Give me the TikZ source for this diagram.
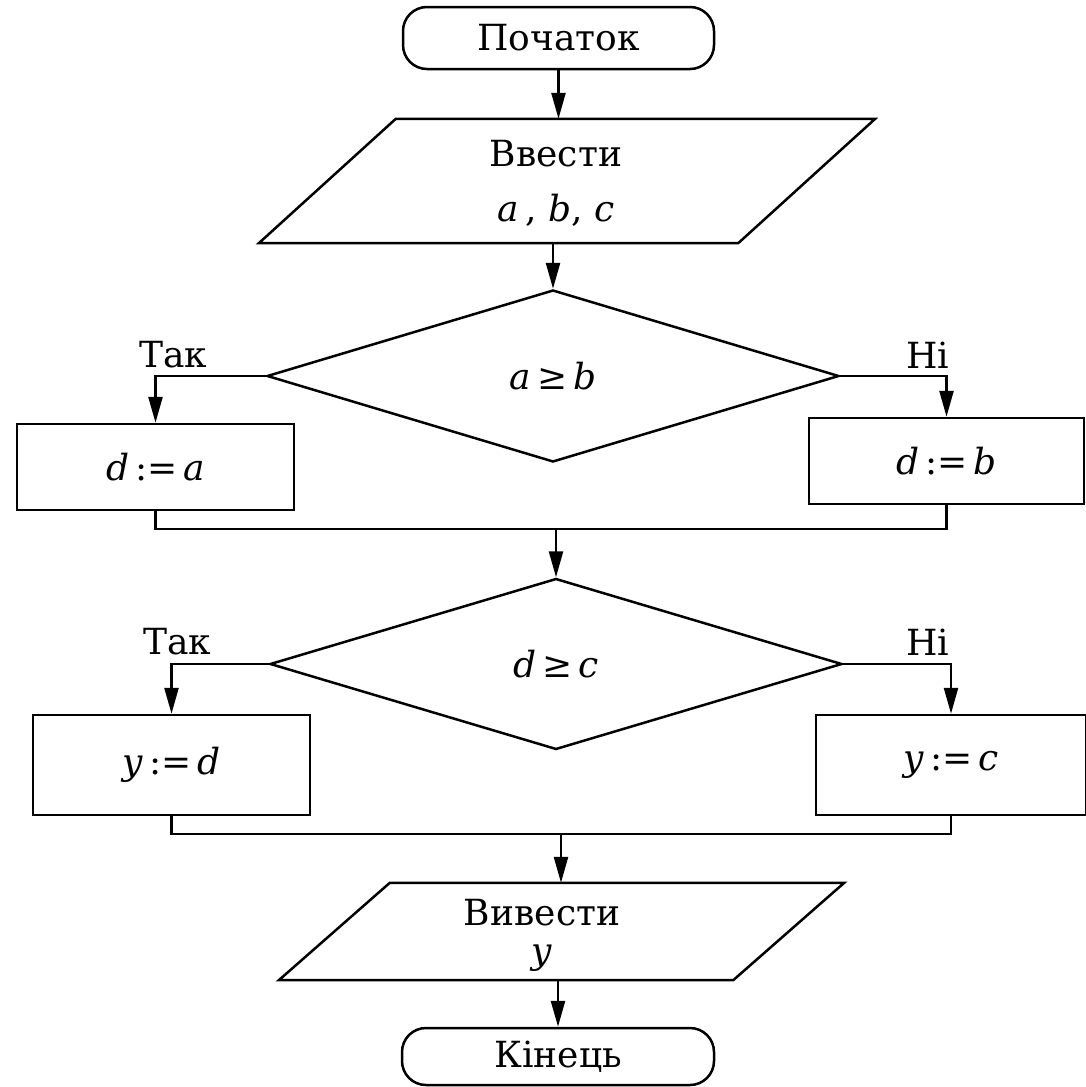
\documentclass[tikz,border=0pt]{standalone}
\usepackage{fontspec}
\setmainfont{DejaVu Serif}
\usetikzlibrary{shapes.geometric,arrows.meta}
\begin{document}
\begin{tikzpicture}[x=1pt,y=-1pt,
  every node/.style={font=\fontsize{36}{42}\selectfont, inner sep=0pt},
  ln/.style={line width=2.5pt},
  arr/.style={ln, -{Triangle[length=26pt,width=14pt]}},
  term/.style={draw, ln, rectangle, rounded corners=24pt},
  frame/.style={rectangle},
  cond/.style={draw, ln, diamond},
  proc/.style={draw, ln, rectangle},
  lbl/.style={}
]
\useasboundingbox (0,0) rectangle (1086,1087);

% start / input
\node[term, minimum width=311pt, minimum height=62pt] (start) at (558.5,38) {Початок};
\node[frame, minimum width=616pt, minimum height=124pt] (in) at (567,181) {};
\draw[ln] ([xshift=137pt]in.north west) -- (in.north east)
  -- ([xshift=-137pt]in.south east) -- (in.south west) -- cycle;
\node[align=center, font=\fontsize{36}{55}\selectfont] (inT) at (556,183) {Ввести\\\textit{a}\,, \textit{b}, \textit{c}};

% first condition
\node[cond, minimum width=572pt, minimum height=172pt] (d1) at (553,376) {\textit{a}\,≥\,\textit{b}};
\node[lbl] (yes1) at (173,355) {Так};
\node[lbl] (no1) at (928,355) {Ні};
\node[proc, minimum width=277pt, minimum height=86pt] (bA) at (155.5,467) {\textit{d}\,:=\,\textit{a}};
\node[proc, minimum width=275pt, minimum height=86pt] (bB) at (946.5,461) {\textit{d}\,:=\,\textit{b}};
\coordinate (j1) at (556,529);

% second condition
\node[cond, minimum width=572pt, minimum height=171pt] (d2) at (556,664) {\textit{d}\,≥\,\textit{c}};
\node[lbl] (yes2) at (177,642) {Так};
\node[lbl] (no2) at (928,642) {Ні};
\node[proc, minimum width=277pt, minimum height=100pt] (bC) at (171.5,765) {\textit{y}\,:=\,\textit{d}};
\node[proc, minimum width=270pt, minimum height=100pt] (bD) at (951,765) {\textit{y}\,:=\,\textit{c}};
\coordinate (j2) at (561,834);

% output / end
\node[frame, minimum width=565pt, minimum height=97pt] (out) at (561.5,931.5) {};
\draw[ln] ([xshift=111pt]out.north west) -- (out.north east)
  -- ([xshift=-111pt]out.south east) -- (out.south west) -- cycle;
\node[align=center, font=\fontsize{36}{38}\selectfont] (outT) at (542,935) {Вивести\\\textit{y}};
\node[term, minimum width=312pt, minimum height=57pt] (end) at (558,1056.5) {Кінець};

% connectors
\draw[arr] (start) -- (start.south |- in.north);
\draw[arr] (d1.north |- in.south) -- (d1.north);
\draw[arr] (d1.west) -| (bA.north);
\draw[arr] (d1.east) -| (bB.north);
\draw[ln] (bA.south) |- (j1) -| (bB.south);
\draw[arr] (j1) -- (d2.north);
\draw[arr] (d2.west) -| (bC.north);
\draw[arr] (d2.east) -| (bD.north);
\draw[ln] (bC.south) |- (j2) -| (bD.south);
\draw[arr] (j2) -- (j2 |- out.north);
\draw[arr] (end.north |- out.south) -- (end.north);
\end{tikzpicture}
\end{document}
